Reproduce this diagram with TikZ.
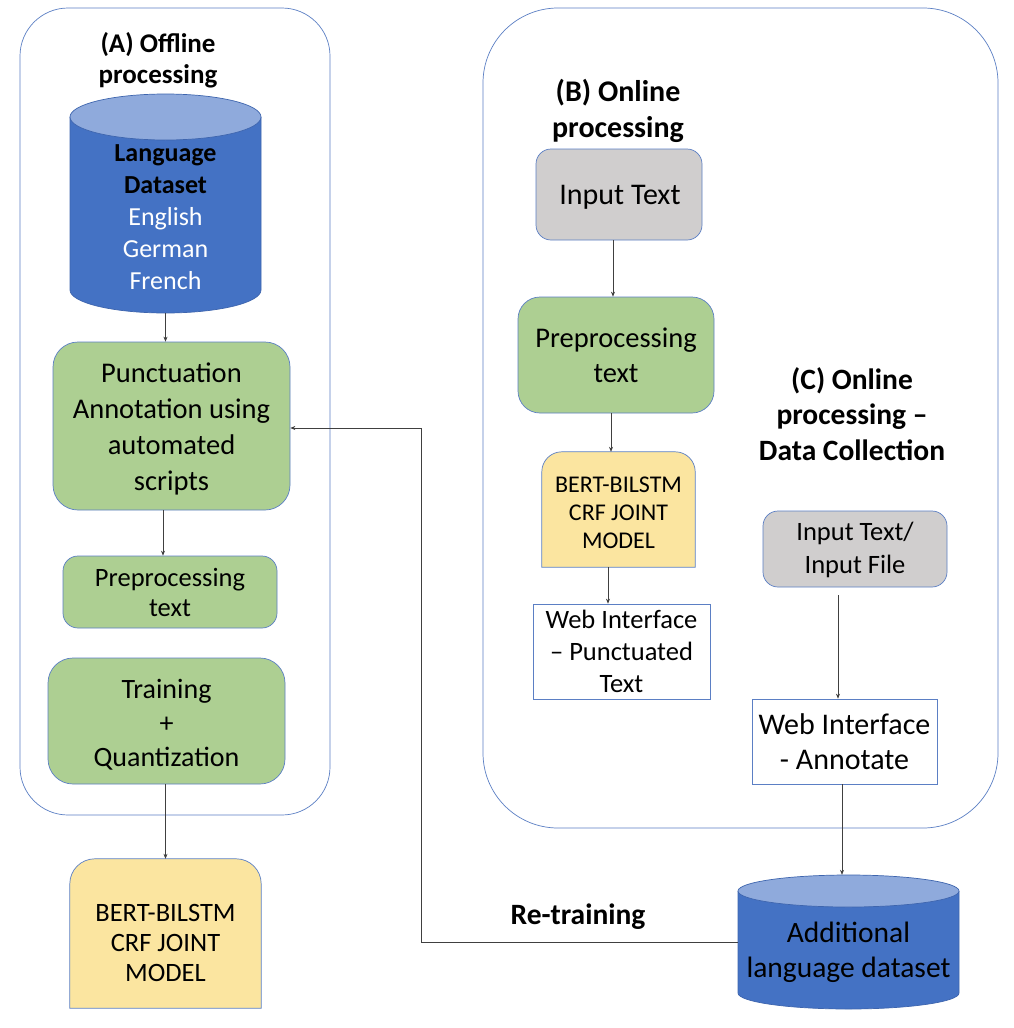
\documentclass[tikz,border=0pt]{standalone}
\usepackage{fontspec}
\setmainfont{Carlito}
\usetikzlibrary{arrows.meta}
\definecolor{bordc}{HTML}{5B7FC4}
\definecolor{greenc}{HTML}{ADCF92}
\definecolor{grayc}{HTML}{D0CECE}
\definecolor{yellc}{HTML}{FBE5A0}
\definecolor{cylbody}{HTML}{4472C4}
\definecolor{cyltop}{HTML}{8FAADC}
\definecolor{cyledge}{HTML}{3E65AE}
\definecolor{arrc}{HTML}{404040}
\newcommand\myfs[2]{\fontsize{#1pt}{#2pt}\selectfont}
\begin{document}
\begin{tikzpicture}[x=1pt,y=-1pt,
 box/.style={draw=bordc,line width=0.7pt,align=center,inner sep=0pt},
 gbox/.style={box,fill=greenc},
 graybox/.style={box,fill=grayc},
 wbox/.style={box,fill=white},
 plain/.style={align=center,inner sep=0pt},
 titletext/.style={plain,font=\bfseries\myfs{28}{35}},
 arr/.style={draw=arrc,line width=0.6pt,-{Stealth[length=5pt,width=4pt]}},
 frame/.style={draw=bordc,line width=0.7pt},
 cyl/.style={draw=cyledge,line width=0.7pt},
 yedge/.style={draw=bordc,line width=0.7pt}]
\useasboundingbox (0,0) rectangle (1014,1028);
\fill[white] (0,0) rectangle (1014,1028);
% frames
\draw[frame,rounded corners=48pt] (20,8) rectangle (330,815);
\draw[frame,rounded corners=75pt] (483,8) rectangle (998,828);
% ---------- (A)
\node[titletext,font=\bfseries\myfs{27}{31}] (titleA) at (158,60.5) {(A) Offline\\processing};
% cylinder A
\fill[cylbody] (70,117) -- (70,290) arc[start angle=180,end angle=360,x radius=95.5pt,y radius=23pt] -- (261,117) -- cycle;
\draw[cyl] (70,117) -- (70,290) arc[start angle=180,end angle=360,x radius=95.5pt,y radius=23pt] -- (261,117);
\draw[cyl,fill=cyltop] (165.5,117) ellipse[x radius=95.5pt,y radius=23pt];
\node[plain,minimum width=191pt,minimum height=220pt] (dsA) at (165.5,203) {};
\node[plain,font=\myfs{26}{32}] (dsAtext) at (165.5,217) {\textbf{Language}\\\textbf{Dataset}\\\textcolor{white}{English}\\\textcolor{white}{German}\\\textcolor{white}{French}};
\node[gbox,rounded corners=25pt,minimum width=237pt,minimum height=168pt] (punct) at (171.5,426) {};
\node[plain,font=\myfs{28.5}{36}] (puncttext) at (171.5,429) {Punctuation\\Annotation using\\automated\\scripts};
\node[gbox,rounded corners=15pt,minimum width=214pt,minimum height=72pt,font=\myfs{26.5}{30}] (prepA) at (170,592) {Preprocessing\\text};
\node[gbox,rounded corners=25pt,minimum width=237pt,minimum height=126pt] (train) at (166.5,721) {};
\node[plain,font=\myfs{28}{34}] (traintext) at (166.5,725) {Training\\+\\Quantization};
\node[plain,minimum width=191pt,minimum height=149pt] (bertA) at (165.5,933.5) {};
\fill[yellc] (bertA.south west) -- ([yshift=-25pt]bertA.north west) arc[start angle=180,end angle=90,radius=25pt] -- ([xshift=-25pt]bertA.north east) arc[start angle=90,end angle=0,radius=25pt] -- (bertA.south east) -- cycle;
\draw[yedge] (bertA.south west) -- ([yshift=-25pt]bertA.north west) arc[start angle=180,end angle=90,radius=25pt] -- ([xshift=-25pt]bertA.north east) arc[start angle=90,end angle=0,radius=25pt] -- (bertA.south east) -- cycle;
\node[plain,font=\myfs{26.5}{30}] (bertAtext) at (165.5,942.5) {BERT-BILSTM\\CRF JOINT\\MODEL};
% ---------- (B)
\node[titletext,font=\bfseries\myfs{30}{36}] (titleB) at (618,111) {(B) Online\\processing};
\node[graybox,rounded corners=15pt,minimum width=166pt,minimum height=91pt] (inB) at (619,194.5) {};
\node[plain,font=\myfs{30}{34}] (inBtext) at (620,197.5) {Input Text};
\node[gbox,rounded corners=22pt,minimum width=196pt,minimum height=116pt,font=\myfs{28.5}{35}] (prepB) at (616,355) {Preprocessing\\text};
\node[plain,minimum width=153pt,minimum height=115pt] (bertB) at (618.5,509.5) {};
\fill[yellc] (bertB.south west) -- ([yshift=-20pt]bertB.north west) arc[start angle=180,end angle=90,radius=20pt] -- ([xshift=-20pt]bertB.north east) arc[start angle=90,end angle=0,radius=20pt] -- (bertB.south east) -- cycle;
\draw[yedge] (bertB.south west) -- ([yshift=-20pt]bertB.north west) arc[start angle=180,end angle=90,radius=20pt] -- ([xshift=-20pt]bertB.north east) arc[start angle=90,end angle=0,radius=20pt] -- (bertB.south east) -- cycle;
\node[plain,font=\myfs{24}{28}] (bertBtext) at (618.5,513) {BERT-BILSTM\\CRF JOINT\\MODEL};
\node[wbox,minimum width=177pt,minimum height=95pt,font=\myfs{26.5}{32}] (webB) at (621.5,651.5) {Web Interface\\– Punctuated\\Text};
% ---------- (C)
\node[titletext,font=\bfseries\myfs{29.5}{35.5}] (titleC) at (852,414) {(C) Online\\processing –\\Data Collection};
\node[graybox,rounded corners=15pt,minimum width=184pt,minimum height=76pt] (inC) at (855,549) {};
\node[plain,font=\myfs{26.5}{32.5}] (inCtext) at (855,550) {Input Text/\\Input File};
\node[wbox,minimum width=185pt,minimum height=85pt,font=\myfs{30}{35.5}] (webC) at (844.5,741.5) {Web Interface\\- Annotate};
% cylinder B
\fill[cylbody] (738,891) -- (738,993) arc[start angle=180,end angle=360,x radius=110.5pt,y radius=16pt] -- (959,891) -- cycle;
\draw[cyl] (738,891) -- (738,993) arc[start angle=180,end angle=360,x radius=110.5pt,y radius=16pt] -- (959,891);
\draw[cyl,fill=cyltop] (848.5,891) ellipse[x radius=110.5pt,y radius=16pt];
\node[plain,minimum width=221pt,minimum height=134pt] (dsB) at (848.5,942) {};
\node[plain,font=\myfs{29.5}{35}] (dsBtext) at (848.5,952) {Additional\\language dataset};
\node[titletext,font=\bfseries\myfs{29.5}{35}] (retrain) at (578,917) {Re-training};
% ---------- connectors
\draw[arr] (dsA.south) -- (dsA.south |- punct.north);
\draw[arr] ([xshift=-8.5pt]punct.south) -- ([xshift=-8.5pt]punct.south |- prepA.north);
\draw[arr] (bertA.north |- train.south) -- (bertA.north);
\draw[arr] ([xshift=-6pt]inB.south) -- ([xshift=-6pt]inB.south |- prepB.north);
\draw[arr] ([xshift=-5pt]prepB.south) -- ([xshift=-5pt]prepB.south |- bertB.north);
\draw[arr] ([xshift=-10.5pt]bertB.south) -- ([xshift=-10.5pt]bertB.south |- webB.north);
\draw[arr,shorten <=8pt] ([xshift=-17pt]inC.south) -- ([xshift=-17pt]inC.south |- webC.north);
\draw[arr] ([xshift=-2.5pt]webC.south) -- ([xshift=-2.5pt]webC.south |- dsB.north);
\coordinate (rt1) at (421,942);
\coordinate (rt2) at (421,428);
\draw[arr] (dsB.west) -- (rt1) -- (rt2) -- (punct.east |- rt2);
\end{tikzpicture}
\end{document}
